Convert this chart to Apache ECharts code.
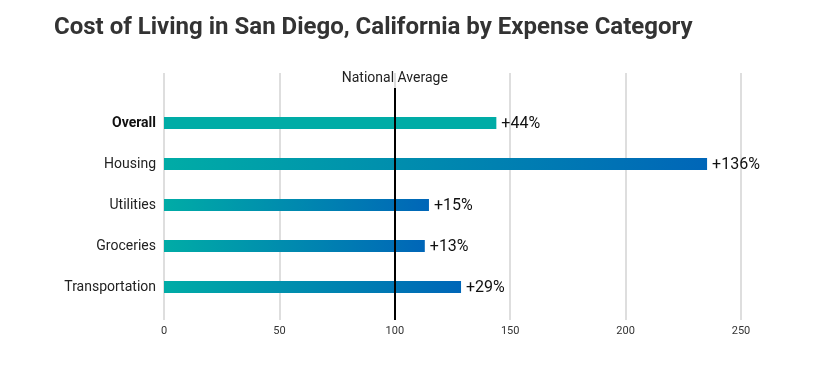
<!DOCTYPE html>
<html>
<head>
<meta charset="utf-8">
<script src="https://cdn.jsdelivr.net/npm/echarts@6/dist/echarts.min.js"></script>
<style>
html,body{margin:0;padding:0;background:#fff;}
#chart{width:818px;height:369px;}
</style>
</head>
<body>
<div id="chart"></div>
<script>
const titleText = 'Cost of Living in San Diego, California by Expense Category';
const categories = ['Overall', 'Housing', 'Utilities', 'Groceries', 'Transportation'];
const values = [144, 236, 115, 113, 129];
const barLengths = [144, 235.3, 114.8, 113, 128.7];
const nationalAverage = 100;
const nationalAverageLabel = 'National Average';
const axisMin = 0;
const axisMax = 250;
const axisInterval = 50;

const chart = echarts.init(document.getElementById('chart'));
const FONT = 'Roboto';
const teal = '#00aca6';
const blue = '#0066b8';

const gradient = new echarts.graphic.LinearGradient(0, 0, 1, 0, [
  { offset: 0, color: teal },
  { offset: 1, color: blue }
]);

const barData = barLengths.map((v, i) => ({
  value: v,
  pct: values[i] - nationalAverage,
  itemStyle: { color: i === 0 ? teal : gradient }
}));

const L = 164, R = 77;

chart.setOption({
  animation: false,
  title: {
    text: titleText,
    left: 49,
    top: 11,
    textStyle: { fontFamily: FONT, fontSize: 24, fontWeight: 'bold', color: '#333' }
  },
  grid: [
    { left: L, right: R, top: 73, bottom: 49 },
    { left: L, right: R, top: 102.5, height: 205 },
    { left: L, right: R, top: 88, bottom: 49 }
  ],
  xAxis: [
    {
      gridIndex: 0, type: 'value', min: axisMin, max: axisMax, interval: axisInterval,
      axisLine: { show: false }, axisTick: { show: false },
      splitLine: { show: true, lineStyle: { color: '#dedede', width: 2 } },
      axisLabel: { fontFamily: FONT, fontSize: 11, color: '#333', margin: 6 }
    },
    { gridIndex: 1, type: 'value', min: axisMin, max: axisMax, show: false },
    { gridIndex: 2, type: 'value', min: axisMin, max: axisMax, show: false }
  ],
  yAxis: [
    { gridIndex: 0, type: 'value', show: false, min: 0, max: 1 },
    {
      gridIndex: 1, type: 'category', data: categories, inverse: true,
      axisLine: { show: false }, axisTick: { show: false }, splitLine: { show: false },
      axisLabel: {
        fontFamily: FONT, fontSize: 14, color: '#222', margin: 8,
        formatter: (v) => v === categories[0] ? '{b|' + v + '}' : v,
        rich: { b: { fontFamily: FONT, fontSize: 14, fontWeight: 'bold', color: '#111' } }
      }
    },
    { gridIndex: 2, type: 'value', show: false, min: 0, max: 1 }
  ],
  series: [
    {
      type: 'bar', xAxisIndex: 1, yAxisIndex: 1, data: barData, barWidth: 12,
      label: {
        show: true, position: 'right', distance: 5, offset: [0, 1],
        fontFamily: FONT, fontSize: 16, color: '#111',
        formatter: (p) => '+' + p.data.pct + '%'
      },
      z: 2
    },
    {
      type: 'scatter', xAxisIndex: 2, yAxisIndex: 2, data: [], silent: true,
      markLine: {
        symbol: 'none', silent: true, animation: false,
        lineStyle: { color: '#000', width: 2, type: 'solid' },
        label: {
          show: true, position: 'end', distance: 3, formatter: nationalAverageLabel,
          fontFamily: FONT, fontSize: 14, color: '#222'
        },
        data: [{ xAxis: nationalAverage }]
      },
      z: 5
    }
  ]
});
</script>
</body>
</html>
